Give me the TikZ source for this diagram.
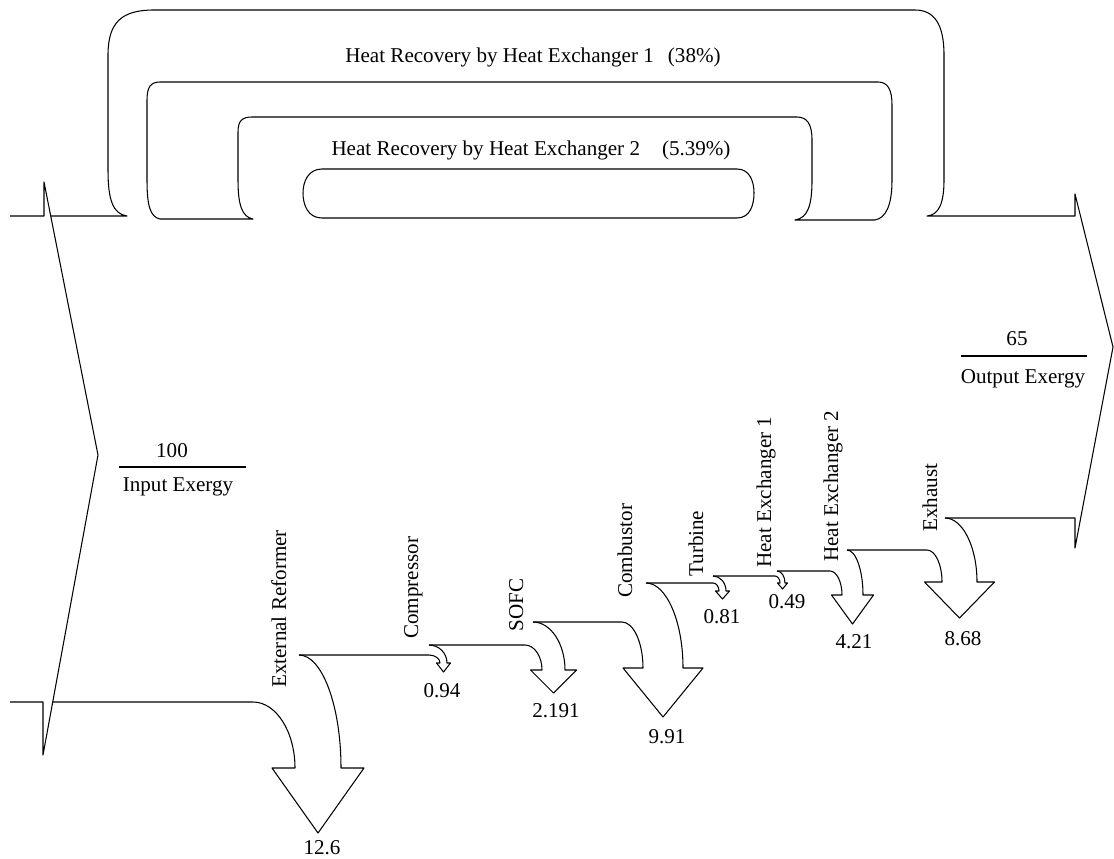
\documentclass[tikz,border=0pt]{standalone}
\usepackage{fontspec}
\setmainfont{Liberation Serif}
\usepackage{tikz}

% lower edge step with one loss arrow:
% #1 start x, #2 bend x, #3 lower y, #4 next x, #5 upper y,
% #6 stem left, #7 stem right, #8 stem end y, #9 tip y
\newcommand{\lossarrow}[9]{%
  \draw[exline] (#1,#3) -- (#2,#3)
    .. controls ({#2+0.55*(#6-#2)},#3) and (#6,{#3+0.45*(#8-#3)}) .. (#6,#8)
    -- ({#6-0.5*(#7-#6)},#8) -- ({0.5*(#6+#7)},#9) -- ({#7+0.5*(#7-#6)},#8)
    -- (#7,#8) .. controls (#7,{#5+0.45*(#8-#5)}) and ({#4+0.55*(#7-#4)},#5) .. (#4,#5);}

\begin{document}
\begin{tikzpicture}[x=0.02cm, y=-0.02cm,
  every node/.style={font=\fontsize{12}{14}\selectfont, inner sep=0pt},
  exline/.style={line width=0.6pt, line join=round},
  lbl/.style={anchor=base},
  vlbl/.style={rotate=90, anchor=base west}]
\fill[white] (0,0) rectangle (1114,858);
\useasboundingbox (0,0) rectangle (1114,858);

% input tail
\draw[exline] (10,216) -- (44,216) -- (44,182) -- (98,455) -- (43,755) -- (43,702) -- (10,702);

% upper edge, heat exchanger 1 loop and output arrow
\draw[exline] (50.7,216) -- (127,216)
  .. controls (113,214) and (108,200) .. (108,170) -- (108,55)
  .. controls (108,22) and (122,10) .. (154,10) -- (915,10)
  .. controls (934,10) and (944,24) .. (944,55) -- (944,180)
  .. controls (944,205) and (938,215) .. (927,216)
  -- (1075,216) -- (1075,194) -- (1113,347) -- (1075,548) -- (1075,518) -- (945,518);

% inner loops
\draw[exline] (875,220) .. controls (886,218) and (892,205) .. (892,180) -- (892,105)
  .. controls (892,90) and (888,82) .. (878,82) -- (160,82)
  .. controls (150,82) and (147,88) .. (147,100) -- (147,180)
  .. controls (147,205) and (150,217) .. (160,219) -- (253,219)
  .. controls (242,217) and (238,205) .. (238,180) -- (238,132)
  .. controls (238,121) and (242,117) .. (252,117) -- (797,117)
  .. controls (807,117) and (812,124) .. (812,140) -- (812,180)
  .. controls (812,205) and (808,218) .. (795,220) -- cycle;
\draw[exline] (322,169) -- (737,169) .. controls (750,169) and (754,182) .. (754,193)
  .. controls (754,205) and (750,218) .. (737,218) -- (322,218)
  .. controls (308,218) and (303,205) .. (303,193)
  .. controls (303,182) and (308,169) .. (322,169) -- cycle;

% lower edge and losses
\lossarrow{52.7}{253}{702}{299}{655}{295}{341}{768}{833}
\lossarrow{299}{429}{655}{429}{645}{440}{447}{663}{672}
\lossarrow{429}{525}{645}{533}{622}{542}{565}{670}{693}
\lossarrow{533}{622}{622}{646}{583}{643}{683}{668}{717}
\lossarrow{646}{713}{583}{713}{576}{719}{726}{591}{599}
\lossarrow{713}{775}{576}{777}{571}{780}{785}{583}{589}
\lossarrow{777}{830}{571}{847}{550}{842}{863}{595}{624}
\lossarrow{847}{927}{550}{945}{518}{942}{977}{582}{618}

\node[lbl] (hxone) at (533,63) {Heat Recovery by Heat Exchanger 1\hspace{8pt}(38\%)};
\node[lbl] (hxtwo) at (531,155) {Heat Recovery by Heat Exchanger 2\hspace{12.5pt}(5.39\%)};

\node[lbl] (inval) at (172,457) {100};
\node[lbl] (inname) at (178,491) {Input Exergy};
\draw[exline] (119,467) -- (246,467);
\node[lbl] (outval) at (1017,345) {65};
\node[lbl] (outname) at (1023,383) {Output Exergy};
\draw[exline] (961,356) -- (1087,356);

\node[vlbl] (reformer) at (286,688) {External Reformer};
\node[vlbl] (compressor) at (418,639) {Compressor};
\node[vlbl] (sofc) at (523,632) {SOFC};
\node[vlbl] (combustor) at (632,598) {Combustor};
\node[vlbl] (turbine) at (703,577) {Turbine};
\node[vlbl] (hxa) at (771,568) {Heat Exchanger 1};
\node[vlbl] (hxb) at (838,562) {Heat Exchanger 2};
\node[vlbl] (exhaust) at (937,532) {Exhaust};

\node[lbl] (vreformer) at (322,854) {12.6};
\node[lbl] (vcompressor) at (442,697) {0.94};
\node[lbl] (vsofc) at (556,717) {2.191};
\node[lbl] (vcombustor) at (667,743) {9.91};
\node[lbl] (vturbine) at (722,623) {0.81};
\node[lbl] (vhxa) at (787,608) {0.49};
\node[lbl] (vhxb) at (854,648) {4.21};
\node[lbl] (vexhaust) at (963,645) {8.68};
\end{tikzpicture}
\end{document}
